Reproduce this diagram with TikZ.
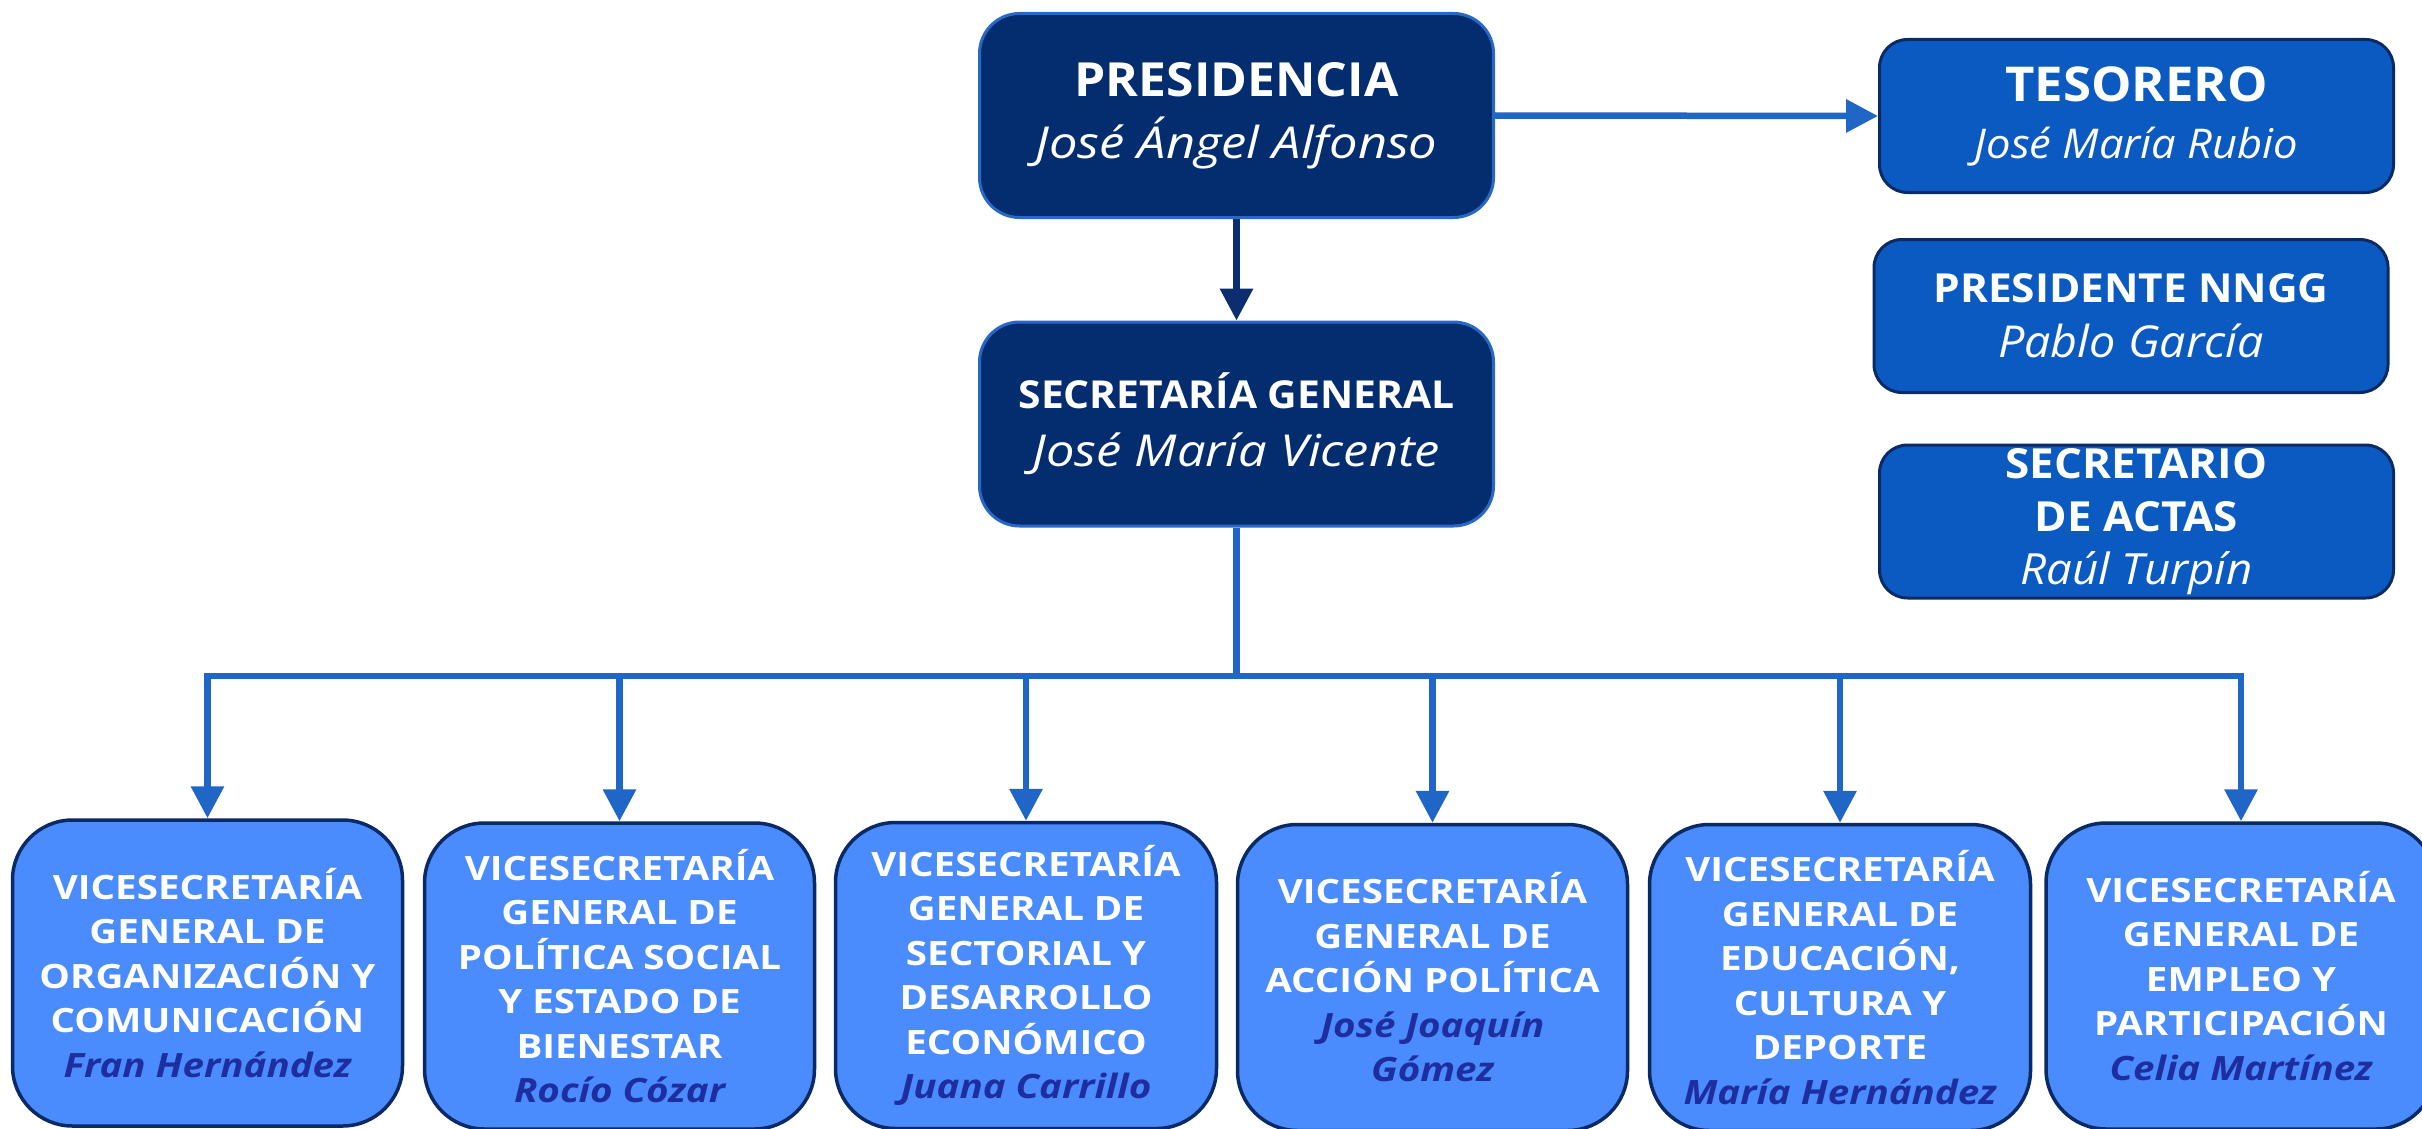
\documentclass[tikz,border=0pt]{standalone}
\usepackage{fontspec}
\setmainfont{Open Sans}
\newfontfamily\widefont{Open Sans}[FakeStretch=1.15]
\newfontfamily\sidefont{Open Sans}[FakeStretch=1.06]
\usetikzlibrary{arrows.meta}
\definecolor{navy}{RGB}{3,45,110}
\definecolor{navyline}{RGB}{40,105,200}
\definecolor{midblue}{RGB}{10,90,194}
\definecolor{darkline}{RGB}{10,42,102}
\definecolor{lightblue}{RGB}{74,139,254}
\definecolor{connblue}{RGB}{31,102,198}
\definecolor{navyarrow}{RGB}{12,46,112}
\definecolor{namecol}{RGB}{31,46,159}
\tikzset{
  topbox/.style={draw=navyline, line width=3pt, fill=navy, rounded corners=40pt,
    minimum width=514pt, minimum height=204pt, text=white, align=center, inner sep=0pt},
  sidebox/.style={draw=darkline, line width=3pt, fill=midblue, rounded corners=28pt,
    minimum width=514pt, minimum height=153pt, text=white, align=center, inner sep=0pt},
  vicebox/.style={draw=darkline, line width=3.5pt, fill=lightblue, rounded corners=60pt,
    minimum width=390pt, minimum height=306pt, text=white, align=center, inner sep=0pt,
    font=\widefont\fontsize{33.5}{44.5}\selectfont\bfseries},
  conn/.style={draw=connblue, line width=6.5pt, -{Triangle[length=32pt,width=32pt]}},
  busline/.style={draw=connblue, line width=6.5pt},
}
\newcommand\pname[1]{{\color{namecol}\itshape #1}}
\begin{document}
\begin{tikzpicture}[x=1pt,y=-1pt]
\clip (0,0) rectangle (2422,1129);
\fill[white] (0,0) rectangle (2422,1129);

% top chain
\node[topbox, font=\widefont\fontsize{44}{62}\selectfont] (pres) at (1236.5,115.5)
  {{\sidefont\fontsize{47}{62}\selectfont\bfseries PRESIDENCIA}\\
   {\itshape José Ángel Alfonso}};
\node[topbox, font=\widefont\fontsize{44}{58}\selectfont] (sg) at (1236.5,424)
  {{\sidefont\fontsize{38.5}{58}\selectfont\bfseries SECRETARÍA GENERAL}\\
   {\itshape José María Vicente}};

% right column
\node[sidebox, font=\sidefont\fontsize{41}{57}\selectfont] (tes) at (2136.5,116)
  {{\fontsize{48}{57}\selectfont\bfseries TESORERO}\\
   {\itshape José María Rubio}};
\node[sidebox, font=\sidefont\fontsize{44}{55}\selectfont] (nngg) at (2131,316)
  {{\fontsize{40}{55}\selectfont\bfseries PRESIDENTE NNGG}\\
   {\itshape Pablo García}};
\node[sidebox, font=\sidefont\fontsize{41.5}{53}\selectfont] (actas) at (2136.5,521.5)
  {{\bfseries SECRETARIO}\\
   {\bfseries DE ACTAS}\\
   {\fontsize{43}{53}\selectfont\itshape Raúl Turpín}};

% bottom row
\node[vicebox] (v1) at (207.5,973)
  {VICESECRETARÍA\\GENERAL DE\\ORGANIZACIÓN Y\\COMUNICACIÓN\\\pname{Fran Hernández}};
\node[vicebox] (v2) at (619.5,976)
  {VICESECRETARÍA\\GENERAL DE\\POLÍTICA SOCIAL\\Y ESTADO DE\\BIENESTAR\\\pname{Rocío Cózar}};
\node[vicebox, minimum width=381pt] (v3) at (1026,975.5)
  {VICESECRETARÍA\\GENERAL DE\\SECTORIAL Y\\DESARROLLO\\ECONÓMICO\\\pname{Juana Carrillo}};
\node[vicebox] (v4) at (1432.5,977.5)
  {VICESECRETARÍA\\GENERAL DE\\ACCIÓN POLÍTICA\\\pname{José Joaquín}\\\pname{Gómez}};
\node[vicebox, minimum width=381pt] (v5) at (1840,977.5)
  {VICESECRETARÍA\\GENERAL DE\\EDUCACIÓN,\\CULTURA Y\\DEPORTE\\\pname{María Hernández}};
\node[vicebox] (v6) at (2241,976)
  {VICESECRETARÍA\\GENERAL DE\\EMPLEO Y\\PARTICIPACIÓN\\\pname{Celia Martínez}};

% connectors
\draw[conn, draw=navyarrow] (pres.south) -- (sg.north);
\draw[conn] (pres.east) -- (tes.west);
\coordinate (busy) at (0,676);
\coordinate (bus) at (sg.south |- busy);
\draw[busline] (sg.south) -- (bus);
\foreach \v in {v1,v2,v3,v4,v5,v6}
  \draw[conn] (bus) -| (\v.north);
\end{tikzpicture}
\end{document}
